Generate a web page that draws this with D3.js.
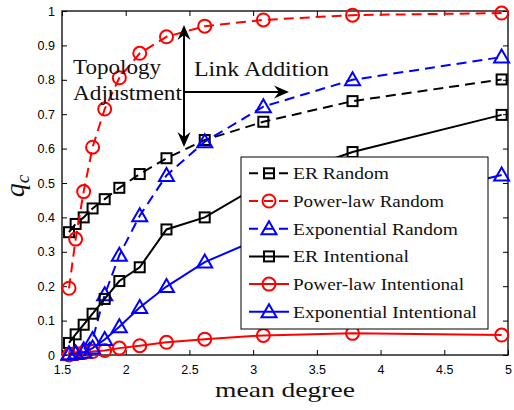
<!DOCTYPE html>
<html>
<head>
<meta charset="utf-8">
<script src="https://cdn.jsdelivr.net/npm/d3@7/dist/d3.min.js"></script>
<style>
  html, body { margin: 0; padding: 0; background: #ffffff; }
  svg { display: block; }
</style>
</head>
<body>
<div id="chart"></div>
<script>
// ---------- data ----------
const meanDegree     = [1.555, 1.607, 1.67, 1.74, 1.835, 1.95, 2.11, 2.32, 2.62, 3.08, 3.78, 4.95];
const erRandom       = [0.357, 0.381, 0.400, 0.426, 0.453, 0.486, 0.526, 0.572, 0.625, 0.678, 0.738, 0.801];
const plRandom       = [0.194, 0.337, 0.475, 0.604, 0.715, 0.806, 0.877, 0.925, 0.956, 0.974, 0.988, 0.994];
const expRandom      = [0.003, 0.006, 0.015, 0.045, 0.175, 0.290, 0.405, 0.522, 0.620, 0.722, 0.800, 0.866];
const erIntentional  = [0.035, 0.060, 0.088, 0.120, 0.163, 0.215, 0.255, 0.365, 0.400, 0.500, 0.590, 0.698];
const plIntentional  = [0.000, 0.004, 0.007, 0.010, 0.013, 0.020, 0.027, 0.037, 0.046, 0.057, 0.063, 0.058];
const expIntentional = [0.002, 0.004, 0.008, 0.020, 0.045, 0.082, 0.138, 0.199, 0.270, 0.343, 0.420, 0.523];

const seriesNames = ["ER Random", "Power-law Random", "Exponential Random",
                     "ER Intentional", "Power-law Intentional", "Exponential Intentional"];
const seriesValues = [erRandom, plRandom, expRandom, erIntentional, plIntentional, expIntentional];
const seriesColors = ["#000000", "#ff0000", "#0000ff", "#000000", "#ff0000", "#0000ff"];
const seriesMarkers = ["square", "circle", "triangle", "square", "circle", "triangle"];
const seriesDashed = [true, true, true, false, false, false];

const xTicks = [1.5, 2, 2.5, 3, 3.5, 4, 4.5, 5];
const yTicks = [0, 0.1, 0.2, 0.3, 0.4, 0.5, 0.6, 0.7, 0.8, 0.9, 1];
const xLabel = "mean degree";
const annTopology = ["Topology", "Adjustment"];
const annLink = "Link Addition";

// ---------- layout ----------
const W = 514, H = 410;
const plot = { left: 62, top: 11, right: 508, bottom: 355 };

const svg = d3.select("#chart").append("svg")
  .attr("width", W).attr("height", H)
  .attr("viewBox", `0 0 ${W} ${H}`);

const x = d3.scaleLinear().domain([1.5, 5]).range([plot.left, plot.right]);
const y = d3.scaleLinear().domain([0, 1]).range([plot.bottom, plot.top]);

const fmt = d => String(d);

// axes (inward ticks)
const tickFont = "'Liberation Sans', Arial, sans-serif";
const gx = svg.append("g").attr("transform", `translate(0,${plot.bottom})`)
  .call(d3.axisBottom(x).tickValues(xTicks).tickFormat(fmt).tickSizeInner(-5).tickSizeOuter(0).tickPadding(10));
const gxt = svg.append("g").attr("transform", `translate(0,${plot.top})`)
  .call(d3.axisTop(x).tickValues(xTicks).tickFormat("").tickSizeInner(-5).tickSizeOuter(0));
const gy = svg.append("g").attr("transform", `translate(${plot.left},0)`)
  .call(d3.axisLeft(y).tickValues(yTicks).tickFormat(fmt).tickSizeInner(-5).tickSizeOuter(0).tickPadding(7));
const gyr = svg.append("g").attr("transform", `translate(${plot.right},0)`)
  .call(d3.axisRight(y).tickValues(yTicks).tickFormat("").tickSizeInner(-5).tickSizeOuter(0));

[gx, gxt, gy, gyr].forEach(g => {
  g.select(".domain").remove();
  g.selectAll(".tick line").attr("stroke", "#000").attr("stroke-width", 1);
  g.selectAll(".tick text").attr("fill", "#000")
    .style("font-family", tickFont).style("font-size", "12.5px");
});

// box
svg.append("rect")
  .attr("x", plot.left).attr("y", plot.top)
  .attr("width", plot.right - plot.left).attr("height", plot.bottom - plot.top)
  .attr("fill", "none").attr("stroke", "#000").attr("stroke-width", 1.3);

// marker drawer
function drawMarker(g, type, cx, cy, color) {
  if (type === "circle") {
    g.append("circle").attr("cx", cx).attr("cy", cy).attr("r", 6.5)
      .attr("fill", "none").attr("stroke", color).attr("stroke-width", 2);
  } else if (type === "square") {
    g.append("rect").attr("x", cx - 5).attr("y", cy - 5).attr("width", 10).attr("height", 10)
      .attr("fill", "none").attr("stroke", color).attr("stroke-width", 2);
  } else {
    const p = `M${cx},${cy - 7.5}L${cx + 7.5},${cy + 5.5}L${cx - 7.5},${cy + 5.5}Z`;
    g.append("path").attr("d", p)
      .attr("fill", "none").attr("stroke", color).attr("stroke-width", 2)
      .attr("stroke-linejoin", "miter");
  }
}

// series
const line = d3.line().x(d => x(d[0])).y(d => y(d[1]));
seriesValues.forEach((vals, i) => {
  const pts = meanDegree.map((m, j) => [m, vals[j]]);
  const g = svg.append("g");
  g.append("path").datum(pts).attr("d", line)
    .attr("fill", "none").attr("stroke", seriesColors[i]).attr("stroke-width", 2)
    .attr("stroke-dasharray", seriesDashed[i] ? "10,6" : null);
  pts.forEach(p => drawMarker(g, seriesMarkers[i], x(p[0]), y(p[1]), seriesColors[i]));
});

// annotations
const serif = "'Liberation Serif', 'Times New Roman', serif";
svg.append("text").attr("x", 73).attr("y", 74).text(annTopology[0])
  .style("font-family", serif).style("font-size", "22px").attr("fill", "#111")
  .attr("textLength", 88).attr("lengthAdjust", "spacingAndGlyphs");
svg.append("text").attr("x", 73).attr("y", 100).text(annTopology[1])
  .style("font-family", serif).style("font-size", "22px").attr("fill", "#111")
  .attr("textLength", 109).attr("lengthAdjust", "spacingAndGlyphs");
svg.append("text").attr("x", 194).attr("y", 76).text(annLink)
  .style("font-family", serif).style("font-size", "22px").attr("fill", "#111")
  .attr("textLength", 135).attr("lengthAdjust", "spacingAndGlyphs");

// arrows
function arrowHead(tx, ty, dirx, diry) {
  const L = 15, Wd = 6.5, N = 10;
  const px = -diry, py = dirx;
  const bx = tx - dirx * L, by = ty - diry * L;
  const nx = tx - dirx * N, ny = ty - diry * N;
  return `M${tx},${ty}L${bx + px * Wd},${by + py * Wd}L${nx},${ny}L${bx - px * Wd},${by - py * Wd}Z`;
}
const ax = 184;
svg.append("line").attr("x1", ax).attr("y1", 30).attr("x2", ax).attr("y2", 142)
  .attr("stroke", "#000").attr("stroke-width", 2);
svg.append("path").attr("d", arrowHead(ax, 25, 0, -1)).attr("fill", "#000");
svg.append("path").attr("d", arrowHead(ax, 147, 0, 1)).attr("fill", "#000");
svg.append("line").attr("x1", ax).attr("y1", 92).attr("x2", 283).attr("y2", 92)
  .attr("stroke", "#000").attr("stroke-width", 2);
svg.append("path").attr("d", arrowHead(289, 92, 1, 0)).attr("fill", "#000");

// legend
const lg = svg.append("g");
lg.append("rect").attr("x", 241).attr("y", 157).attr("width", 247).attr("height", 172)
  .attr("fill", "#fff").attr("stroke", "#000").attr("stroke-width", 1);
const legendTextLen = [96, 151, 165, 116, 171, 184];
seriesNames.forEach((name, i) => {
  const ly = 173.3 + i * 27.7;
  lg.append("line").attr("x1", 249).attr("x2", 289).attr("y1", ly).attr("y2", ly)
    .attr("stroke", seriesColors[i]).attr("stroke-width", 2)
    .attr("stroke-dasharray", seriesDashed[i] ? "9,6" : null);
  drawMarker(lg, seriesMarkers[i], 269, ly, seriesColors[i]);
  lg.append("text").attr("x", 293).attr("y", ly + 6).text(name)
    .style("font-family", serif).style("font-size", "17.5px").attr("fill", "#111")
    .attr("textLength", legendTextLen[i]).attr("lengthAdjust", "spacingAndGlyphs");
});

// axis labels
svg.append("text").attr("x", 285).attr("y", 397).attr("text-anchor", "middle").text(xLabel)
  .style("font-family", serif).style("font-size", "21px").attr("fill", "#111")
  .attr("textLength", 140).attr("lengthAdjust", "spacingAndGlyphs");

const yl = svg.append("text").attr("transform", "translate(24,186) rotate(-90)")
  .attr("text-anchor", "middle")
  .style("font-family", serif).style("font-style", "italic").style("font-size", "28px").attr("fill", "#111");
yl.append("tspan").text("q");
yl.append("tspan").attr("dy", 5).style("font-size", "19px").text("c");
</script>
</body>
</html>
